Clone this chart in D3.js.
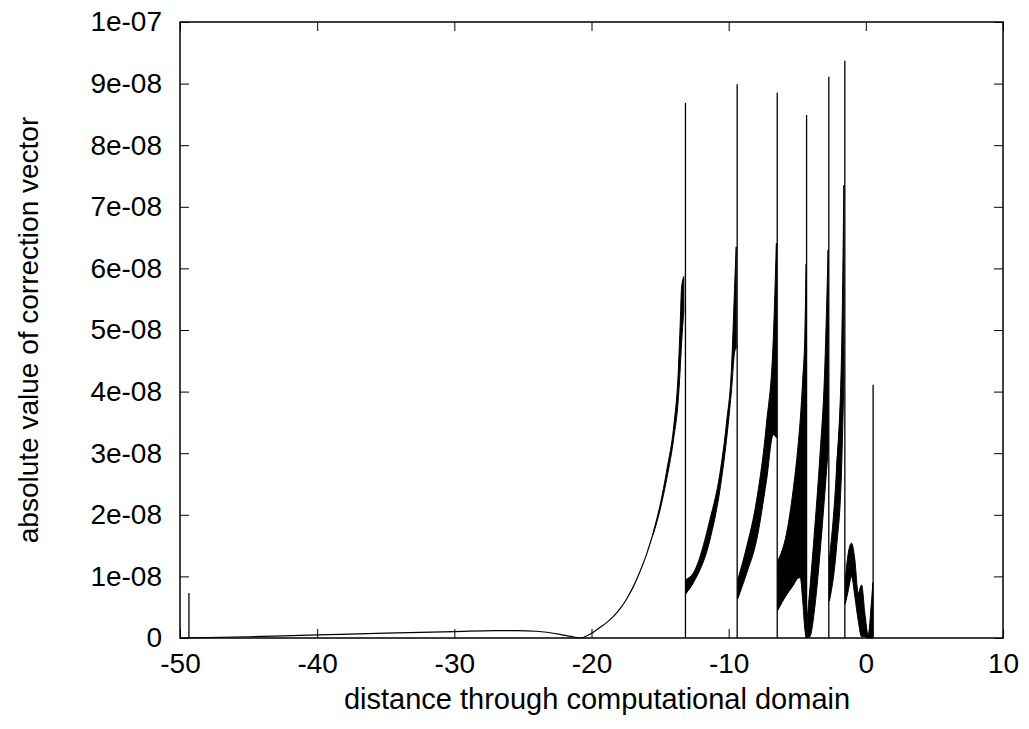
<!DOCTYPE html>
<html>
<head>
<meta charset="utf-8">
<script src="https://cdn.jsdelivr.net/npm/d3@7"></script>
<style>
  body { margin: 0; background: #fff; }
  text { font-family: "Liberation Sans", Arial, sans-serif; fill: #000; }
</style>
</head>
<body>
<svg id="chart" width="1029" height="729"></svg>
<script>
// values are in units of 1e-8
const xTicks = [-50, -40, -30, -20, -10, 0, 10];
const yTicks = [0, 1, 2, 3, 4, 5, 6, 7, 8, 9, 10];
const yTickLabels = ["0", "1e-08", "2e-08", "3e-08", "4e-08", "5e-08", "6e-08", "7e-08", "8e-08", "9e-08", "1e-07"];

// smooth part of the curve: [x, value]
const curve = [
  [-50, 0], [-45, 0.02], [-40, 0.05], [-35, 0.08], [-30, 0.105], [-27, 0.12],
  [-25.5, 0.12], [-24, 0.11], [-22.3, 0.06], [-21.5, 0.025], [-20.75, 0],
  [-20.3, 0.04], [-19.9, 0.09], [-19.4, 0.17], [-18.9, 0.25], [-18.4, 0.35],
  [-17.9, 0.48], [-17.45, 0.63], [-16.96, 0.83], [-16.48, 1.07], [-16.0, 1.35],
  [-15.5, 1.7]
];

// oscillating parts: [x, lower, upper]
const band1 = [
  [-15.5, 1.68, 1.72], [-15.0, 2.08, 2.16], [-14.5, 2.6, 2.74], [-14.0, 3.25, 3.45],
  [-13.68, 3.85, 4.3], [-13.55, 4.3, 5.0], [-13.43, 4.8, 5.7], [-13.27, 5.3, 5.87]
];
const band2 = [
  [-13.12, 0.72, 0.95], [-12.59, 0.89, 1.05], [-11.37, 1.59, 1.92],
  [-10.64, 2.4, 2.67], [-10.16, 3.21, 3.49], [-9.79, 4.03, 4.4], [-9.55, 4.66, 5.8],
  [-9.45, 4.7, 6.35]
];
const band3 = [
  [-9.33, 0.64, 0.95], [-8.69, 1.05, 1.48], [-7.96, 1.59, 2.24],
  [-7.24, 2.56, 3.49], [-6.75, 3.3, 4.84], [-6.52, 3.25, 6.41]
];
const band4 = [
  [-6.42, 0.45, 1.25], [-5.78, 0.7, 1.7], [-5.3, 0.85, 2.4],
  [-4.95, 0.97, 3.1], [-4.78, 0.98, 3.55], [-4.6, 0.6, 4.2], [-4.45, 0.15, 4.9],
  [-4.35, 0, 6.07]
];
const band5 = [
  [-4.28, 0, 0.3], [-4.08, 0.02, 0.8], [-3.72, 0.5, 1.8], [-3.35, 1.35, 2.95],
  [-2.99, 2.35, 4.4], [-2.75, 3.05, 6.3]
];
const band6 = [
  [-2.65, 0.6, 1.3], [-2.14, 1.46, 2.73], [-1.77, 2.73, 4.63],
  [-1.6, 4.19, 7.35]
];
const band7 = [
  [-1.5, 0.55, 0.95], [-1.3, 0.75, 1.35], [-1.04, 1.0, 1.54], [-0.8, 0.67, 1.27],
  [-0.56, 0.29, 0.73], [-0.31, 0.02, 0.86], [-0.07, 0.02, 0.4], [0.17, 0, 0.05],
  [0.42, 0, 0.62], [0.52, 0, 0.9]
];
const bands = [band1, band2, band3, band4, band5, band6, band7];

// isolated spikes: position and height
const spikeX = [-49.35, -13.15, -9.38, -6.46, -4.32, -2.7, -1.53, 0.53];
const spikeTop = [0.73, 8.69, 8.99, 8.85, 8.49, 9.11, 9.37, 4.11];

const svg = d3.select("#chart"),
    margin = { top: 22, right: 26, bottom: 91, left: 180 },
    width = +svg.attr("width") - margin.left - margin.right,
    height = +svg.attr("height") - margin.top - margin.bottom,
    g = svg.append("g").attr("transform", `translate(${margin.left},${margin.top})`);

const x = d3.scaleLinear().domain([-50, 10]).range([0, width]);
const y = d3.scaleLinear().domain([0, 10]).range([height, 0]);

const tickLen = 9;
const fontSize = 28;

// ticks on all four sides, pointing inward
const axisB = d3.axisBottom(x).tickValues(xTicks).tickSizeInner(-tickLen).tickSizeOuter(0).tickPadding(15)
    .tickFormat(d => String(d));
const axisT = d3.axisTop(x).tickValues(xTicks).tickSizeInner(-tickLen).tickSizeOuter(0).tickFormat("");
const axisL = d3.axisLeft(y).tickValues(yTicks).tickSizeInner(-tickLen).tickSizeOuter(0).tickPadding(18)
    .tickFormat((d, i) => yTickLabels[i]);
const axisR = d3.axisRight(y).tickValues(yTicks).tickSizeInner(-tickLen).tickSizeOuter(0).tickFormat("");

g.append("g").attr("transform", `translate(0,${height})`).call(axisB);
g.append("g").call(axisT);
g.append("g").call(axisL);
g.append("g").attr("transform", `translate(${width},0)`).call(axisR);

g.selectAll(".tick line").attr("stroke", "#000").attr("stroke-width", 1);
g.selectAll(".domain").remove();
g.selectAll(".tick text")
    .style("font-family", "'Liberation Sans', Arial, sans-serif")
    .style("font-size", fontSize + "px")
    .attr("fill", "#000");

// bands (rapid oscillation renders as a filled region)
const area = d3.area()
    .x(d => x(d[0]))
    .y0(d => y(d[1]))
    .y1(d => y(d[2]))
    .curve(d3.curveMonotoneX);

g.selectAll(".band")
    .data(bands)
    .enter().append("path")
    .attr("class", "band")
    .attr("d", area)
    .attr("fill", "#000")
    .attr("stroke", "#000")
    .attr("stroke-width", 1);

const line = d3.line()
    .x(d => x(d[0]))
    .y(d => y(d[1]))
    .curve(d3.curveMonotoneX);

g.append("path")
    .datum(curve)
    .attr("d", line)
    .attr("fill", "none")
    .attr("stroke", "#000")
    .attr("stroke-width", 1.2);

g.selectAll(".spike")
    .data(spikeX)
    .enter().append("line")
    .attr("class", "spike")
    .attr("x1", d => x(d))
    .attr("x2", d => x(d))
    .attr("y1", y(0))
    .attr("y2", (d, i) => y(spikeTop[i]))
    .attr("stroke", "#000")
    .attr("stroke-width", 1.3);

// frame
g.append("rect")
    .attr("width", width)
    .attr("height", height)
    .attr("fill", "none")
    .attr("stroke", "#000")
    .attr("stroke-width", 1.5);

// axis titles
svg.append("text")
    .attr("x", 597)
    .attr("y", 709)
    .attr("text-anchor", "middle")
    .style("font-size", "29px")
    .text("distance through computational domain");

svg.append("text")
    .attr("transform", `translate(38,${margin.top + height / 2}) rotate(-90)`)
    .attr("text-anchor", "middle")
    .style("font-size", fontSize + "px")
    .text("absolute value of correction vector");
</script>
</body>
</html>
